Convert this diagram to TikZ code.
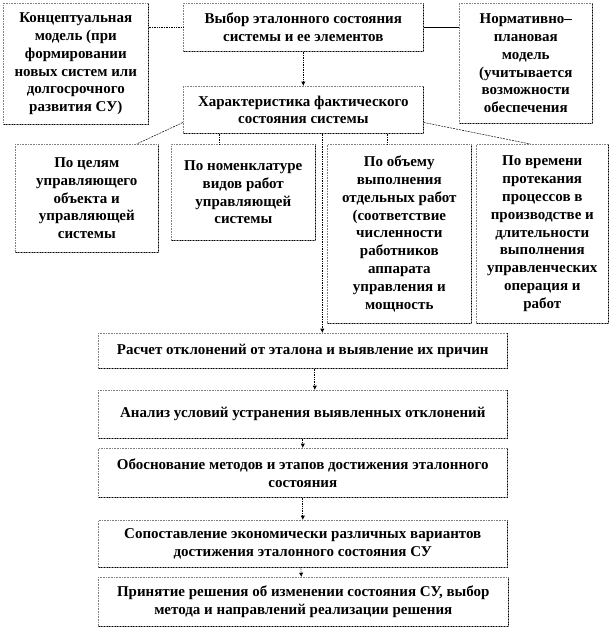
\documentclass[tikz,border=0pt]{standalone}
\usepackage{fontspec}
\setmainfont{Liberation Serif}
\usetikzlibrary{arrows.meta}

\begin{document}
\begin{tikzpicture}[x=1pt, y=-1pt,
  box/.style={draw=gray, densely dotted, line width=0.6pt, anchor=north west,
    align=center, inner sep=1pt, font=\fontsize{15}{17.8}\selectfont\bfseries,
    append after command={\pgfextra{\draw[solid, black, line width=0.7pt]
      (\tikzlastnode.north east) -- (\tikzlastnode.south east) -- (\tikzlastnode.south west);}}},
  link/.style={densely dotted, line width=0.7pt},
  flow/.style={densely dotted, line width=0.7pt, -{Latex[length=1.5mm, width=1.5mm]}},
  slant/.style={dash pattern=on 2pt off 1pt, line width=0.5pt}]
\useasboundingbox (0,0) rectangle (612,629);

% upper part
\node[box, minimum width=145, minimum height=121] (konc) at (3,3)
  {Концептуальная\\модель (при\\формировании\\новых систем или\\долгосрочного\\развития СУ)};
\node[box, minimum width=240, minimum height=48] (vybor) at (183,3)
  {Выбор эталонного состояния\\системы и ее элементов};
\node[box, minimum width=133, minimum height=120] (norm) at (459,3)
  {Нормативно--\\плановая\\модель\\(учитывается\\возможности\\обеспечения};
\node[box, minimum width=240, minimum height=47] (harakt) at (183,86)
  {Характеристика фактического\\состояния системы};

\node[box, minimum width=143, minimum height=108] (po1) at (15,144)
  {По целям\\управляющего\\объекта и\\управляющей\\системы};
\node[box, minimum width=144, minimum height=96] (po2) at (171,144)
  {По номенклатуре\\видов работ\\управляющей\\системы};
\node[box, minimum width=144, minimum height=179] (po3) at (327,144)
  {По объему\\выполнения\\отдельных работ\\(соответствие\\численности\\работников\\аппарата\\управления и\\мощность};
\node[box, minimum width=132, minimum height=179] (po4) at (476,144)
  {По времени\\протекания\\процессов в\\производстве и\\длительности\\выполнения\\управленческих\\операция и\\работ};

% lower chain
\node[box, minimum width=409, minimum height=35] (raschet) at (98,333)
  {Расчет отклонений от эталона и выявление их причин};
\node[box, minimum width=409, minimum height=48] (analiz) at (98,390)
  {Анализ условий устранения выявленных отклонений};
\node[box, minimum width=409, minimum height=49] (obosn) at (98,448)
  {Обоснование методов и этапов достижения эталонного\\состояния};
\node[box, minimum width=409, minimum height=47] (sopost) at (98,520)
  {Сопоставление экономически различных вариантов\\достижения эталонного состояния СУ};
\node[box, minimum width=410, minimum height=49] (prin) at (98,577)
  {Принятие решения об изменении состояния СУ, выбор\\метода и направлений реализации решения};

\draw[link] (konc.east |- vybor.west) -- (vybor.west);
\draw[line width=0.7pt] (vybor.east) -- (norm.west |- vybor.east);
\draw[flow] (vybor.south) -- (harakt.north);

\draw[slant] (harakt.186) -- ([xshift=-22pt]po1.north east);
\draw[slant] (harakt.354) -- ([xshift=-12pt]po4.north);
\draw[link] ([xshift=-24pt]po2.north |- harakt.south) -- ([xshift=-24pt]po2.north);
\draw[link] ([xshift=-12pt]po3.north |- harakt.south) -- ([xshift=-12pt]po3.north);

\coordinate (drop) at ([xshift=19pt]harakt.south);
\draw[flow] (drop) -- (drop |- raschet.north);
\draw[flow] ([xshift=12pt]raschet.south) -- ([xshift=12pt]analiz.north);
\draw[flow] (analiz.south) -- (obosn.north);
\draw[flow] (obosn.south) -- (sopost.north);
\draw[flow] ([xshift=-2pt]sopost.south) -- ([xshift=-2pt]prin.north);
\end{tikzpicture}
\end{document}
